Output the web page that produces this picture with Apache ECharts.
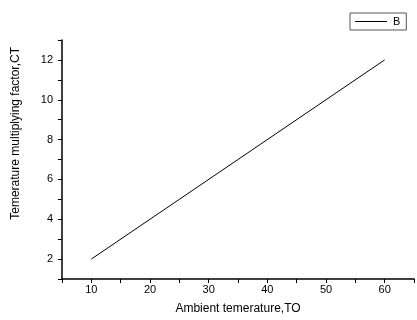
<!DOCTYPE html>
<html>
<head>
<meta charset="utf-8">
<script src="https://cdn.jsdelivr.net/npm/echarts@6/dist/echarts.min.js"></script>
<style>
  body { margin: 0; padding: 0; background: #fff; }
  #chart { width: 417px; height: 320px; }
</style>
</head>
<body>
<div id="chart"></div>
<script>
// data
const ambientTemp = [10, 60];
const multFactor = [2, 12];
const seriesName = 'B';

const font = 'Arial, "Liberation Sans", sans-serif';
const chart = echarts.init(document.getElementById('chart'), null, { renderer: 'canvas' });

chart.setOption({
  animation: false,
  backgroundColor: '#fff',
  textStyle: { fontFamily: font, color: '#000' },
  grid: { left: 62, right: -3, top: 40, bottom: 37, containLabel: false },
  legend: {
    left: 350,
    top: 13,
    padding: [3, 6, 3, 5],
    icon: 'rect',
    itemWidth: 32,
    itemHeight: 1,
    itemGap: 0,
    borderColor: '#555',
    borderWidth: 1,
    borderRadius: 0,
    textStyle: { fontSize: 11, color: '#000', fontFamily: font, padding: [0, 0, 0, 1] },
    data: [seriesName]
  },
  xAxis: {
    type: 'value',
    min: 5,
    max: 65,
    interval: 5,
    name: 'Ambient temerature,TO',
    nameLocation: 'middle',
    nameGap: 24,
    nameTextStyle: { fontSize: 12, color: '#000', fontFamily: font },
    axisLine: { show: true, onZero: false, lineStyle: { color: '#000', width: 1.5 } },
    axisTick: { show: true, inside: false, length: 4, lineStyle: { color: '#000', width: 1 } },
    axisLabel: {
      fontSize: 11, color: '#000', margin: 5,
      formatter: v => (v % 10 === 0 && v >= 10 && v <= 60) ? String(v) : ''
    },
    splitLine: { show: false }
  },
  yAxis: {
    type: 'value',
    min: 1,
    max: 13,
    interval: 1,
    axisLine: { show: true, onZero: false, lineStyle: { color: '#000', width: 1.5 } },
    axisTick: { show: true, inside: false, length: 4, lineStyle: { color: '#000', width: 1 } },
    axisLabel: {
      fontSize: 11, color: '#000', margin: 9,
      formatter: v => (v % 2 === 0) ? String(v) : ''
    },
    splitLine: { show: false }
  },
  graphic: [{
    type: 'text',
    left: 10,
    top: 47,
    rotation: Math.PI / 2,
    style: {
      text: 'Temerature multiplying factor,CT',
      fontSize: 12,
      fontFamily: font,
      fill: '#000'
    }
  }],
  series: [{
    name: seriesName,
    type: 'line',
    data: ambientTemp.map((x, i) => [x, multFactor[i]]),
    symbol: 'none',
    showSymbol: false,
    lineStyle: { color: '#000', width: 1 },
    itemStyle: { color: '#000' }
  }]
});
</script>
</body>
</html>
